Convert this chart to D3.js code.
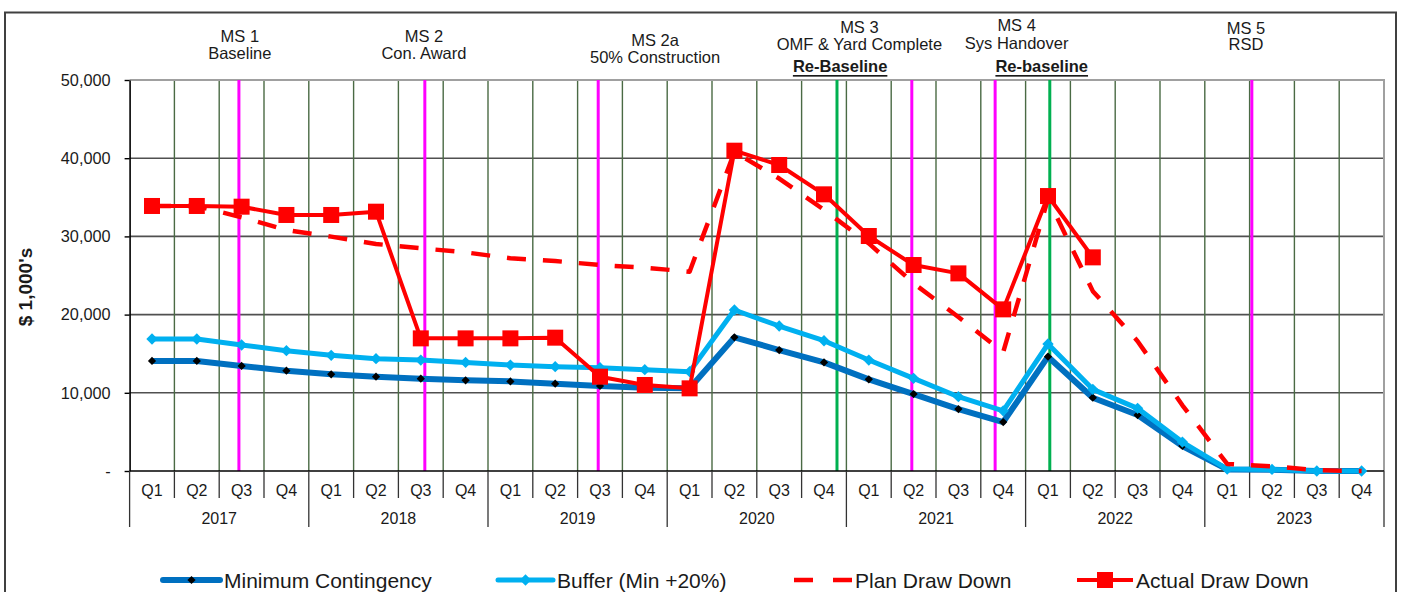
<!DOCTYPE html>
<html>
<head>
<meta charset="utf-8">
<script src="https://cdn.jsdelivr.net/npm/d3@7"></script>
<style>
  html, body { margin: 0; padding: 0; background: #fff; }
  svg { display: block; }
  text { font-family: "Liberation Sans", Arial, sans-serif; fill: #1a1a1a; }
</style>
</head>
<body>
<svg id="chart" width="1401" height="592"></svg>
<script>
// ---------------- DATA ----------------
const years = ["2017", "2018", "2019", "2020", "2021", "2022", "2023"];
const quarters = ["Q1", "Q2", "Q3", "Q4"];
const yTicks = [0, 10000, 20000, 30000, 40000, 50000];

const minimumContingency = [14070, 14070, 13430, 12830, 12360, 12060, 11810, 11590,
  11460, 11170, 10870, 10660, 10570, 17090, 15470, 13890,
  11720, 9840, 7920, 6260, 14620, 9370, 7160, 3200,
  200, 150, 0, 0];
const bufferMin20 = [16880, 16880, 16110, 15390, 14790, 14360, 14190, 13890,
  13550, 13340, 13210, 12960, 12700, 20590, 18540, 16660,
  14190, 11850, 9500, 7700, 16240, 10440, 8010, 3700,
  250, 200, 0, 0];
const planDrawDown = [33890, 33890, 32440, 30820, 29970, 29030, 28480, 27960,
  27200, 26850, 26340, 26000, 25490, 40800, 37400, 33400,
  29100, 24000, 19700, 15200, 34800, 23000, 16600, 8400,
  900, 600, 100, 0];
const actualDrawDown = [33890, 33890, 33800, 32740, 32740, 33160, 16960, 16960,
  16960, 17050, 12060, 11000, 10570, 40960, 39130, 35380,
  30050, 26340, 25270, 20670, 35160, 27320, null, null,
  null, null, null, null];

// milestone vertical lines: position in quarters from start of 2017
const milestoneLinePos = [2.44, 6.59, 10.46, 17.46, 19.32, 25.05];
const rebaselineLinePos = [15.79, 20.54];

// milestone annotation texts (position in quarters from start of 2017)
const milestoneNames = ["MS 1", "MS 2", "MS 2a", "MS 3", "MS 4", "MS 5"];
const milestoneDescs = ["Baseline", "Con. Award", "50% Construction", "OMF & Yard Complete", "Sys Handover", "RSD"];
const milestoneTextPos = [2.46, 6.57, 11.73, 16.29, 19.8, 24.92];
const rebaselineTexts = ["Re-Baseline", "Re-baseline"];
const rebaselineTextPos = [15.86, 20.36];

const legendNames = ["Minimum Contingency", "Buffer (Min +20%)", "Plan Draw Down", "Actual Draw Down"];

// ---------------- LAYOUT ----------------
const L = 129.6, R = 1384, T = 80, B = 471;
const keys = [];
years.forEach(yr => quarters.forEach(q => keys.push(yr + "-" + q)));

const svg = d3.select("#chart");
const x = d3.scaleBand().domain(keys).range([L, R]).paddingInner(0).paddingOuter(0);
const xq = d3.scaleLinear().domain([0, keys.length]).range([L, R]);
const y = d3.scaleLinear().domain([0, 50000]).range([B, T]);
const cx = i => x(keys[i]) + x.bandwidth() / 2;

// outer frame
svg.append("rect").attr("x", 5).attr("y", 12.5).attr("width", 1391).attr("height", 640)
  .attr("fill", "none").attr("stroke", "#404040").attr("stroke-width", 2);

// horizontal gridlines
svg.append("g").selectAll("line").data(yTicks.filter(v => v > 0 && v < 50000)).join("line")
  .attr("x1", L).attr("x2", R).attr("y1", d => y(d)).attr("y2", d => y(d))
  .attr("stroke", "#505050").attr("stroke-width", 1.6);

// vertical gridlines (quarter boundaries)
svg.append("g").selectAll("line").data(d3.range(1, keys.length)).join("line")
  .attr("x1", d => xq(d)).attr("x2", d => xq(d)).attr("y1", T).attr("y2", B)
  .attr("stroke", "#4a6a44").attr("stroke-width", 1.4);

// plot border (top / right)
svg.append("path")
  .attr("d", `M${L},${y(50000)}H${R}V${B}`)
  .attr("fill", "none").attr("stroke", "#a0a0a0").attr("stroke-width", 2);

// milestone lines
svg.append("g").selectAll("line").data(milestoneLinePos).join("line")
  .attr("x1", d => xq(d)).attr("x2", d => xq(d)).attr("y1", T).attr("y2", B)
  .attr("stroke", "#ff00ff").attr("stroke-width", 3);
svg.append("g").selectAll("line").data(rebaselineLinePos).join("line")
  .attr("x1", d => xq(d)).attr("x2", d => xq(d)).attr("y1", T).attr("y2", B)
  .attr("stroke", "#00b050").attr("stroke-width", 3);

// y axis
const yAxis = d3.axisLeft(y).tickValues(yTicks).tickSize(5).tickSizeOuter(0).tickPadding(14)
  .tickFormat(v => v === 0 ? "-" : d3.format(",")(v));
const gy = svg.append("g").attr("transform", `translate(${L},0)`).call(yAxis);
gy.select(".domain").attr("stroke", "#000").attr("stroke-width", 1.6);
gy.selectAll(".tick line").attr("stroke", "#000").attr("stroke-width", 1.4);
gy.selectAll(".tick text").attr("font-size", 16.3).attr("fill", "#1a1a1a")
  .style("font-family", '"Liberation Sans", Arial, sans-serif');

svg.append("text").attr("transform", "translate(25,287) rotate(-90)")
  .attr("text-anchor", "middle").attr("dominant-baseline", "central")
  .attr("font-size", 19).attr("font-weight", "bold").text("$ 1,000's");

// x axis (two-level category)
const gx = svg.append("g");
gx.append("line").attr("x1", L).attr("x2", R).attr("y1", B).attr("y2", B)
  .attr("stroke", "#000").attr("stroke-width", 1.6);
gx.selectAll("line.sep").data(d3.range(0, keys.length + 1)).join("line").attr("class", "sep")
  .attr("x1", d => xq(d)).attr("x2", d => xq(d)).attr("y1", B)
  .attr("y2", d => d % 4 === 0 ? 527 : 498)
  .attr("stroke", "#333").attr("stroke-width", 1.3);
gx.selectAll("text.q").data(keys).join("text").attr("class", "q")
  .attr("x", d => x(d) + x.bandwidth() / 2).attr("y", 490)
  .attr("text-anchor", "middle").attr("dominant-baseline", "central")
  .attr("font-size", 16).text(d => d.split("-")[1]);
gx.selectAll("text.yr").data(years).join("text").attr("class", "yr")
  .attr("x", d => (x(d + "-Q1") + x(d + "-Q4") + x.bandwidth()) / 2).attr("y", 518)
  .attr("text-anchor", "middle").attr("dominant-baseline", "central")
  .attr("font-size", 16).text(d => d);

// milestone annotations
const nameDy = [36, 36, 40, 27, 25, 28];
const descDy = [53, 53, 57, 44, 43, 44];
const ga = svg.append("g").attr("font-size", 16.5);
ga.selectAll("text.mn").data(milestoneNames).join("text").attr("class", "mn")
  .attr("x", (d, i) => xq(milestoneTextPos[i])).attr("y", (d, i) => nameDy[i])
  .attr("text-anchor", "middle").attr("dominant-baseline", "central").text(d => d);
ga.selectAll("text.md").data(milestoneDescs).join("text").attr("class", "md")
  .attr("x", (d, i) => xq(milestoneTextPos[i])).attr("y", (d, i) => descDy[i])
  .attr("text-anchor", "middle").attr("dominant-baseline", "central").text(d => d);
ga.selectAll("text.rb").data(rebaselineTexts).join("text").attr("class", "rb")
  .attr("x", (d, i) => xq(rebaselineTextPos[i])).attr("y", 66)
  .attr("text-anchor", "middle").attr("dominant-baseline", "central")
  .attr("font-weight", "bold").style("text-decoration", "underline").text(d => d);

// series
const lineGen = d3.line().defined(d => d != null).x((d, i) => cx(i)).y(d => y(d));
const diamond = s => d3.symbol(d3.symbolSquare, s)();

function drawSeries(data, color, width, dash) {
  svg.append("path").datum(data).attr("d", lineGen)
    .attr("fill", "none").attr("stroke", color).attr("stroke-width", width)
    .attr("stroke-linejoin", "round").attr("stroke-dasharray", dash || null);
}

// Minimum Contingency
drawSeries(minimumContingency, "#0070c0", 6);
svg.append("g").selectAll("path").data(minimumContingency).join("path")
  .attr("d", diamond(34)).attr("fill", "#000")
  .attr("transform", (d, i) => `translate(${cx(i)},${y(d)}) rotate(45)`);

// Buffer
drawSeries(bufferMin20, "#00b0f0", 5);
svg.append("g").selectAll("path").data(bufferMin20).join("path")
  .attr("d", diamond(64)).attr("fill", "#00b0f0")
  .attr("transform", (d, i) => `translate(${cx(i)},${y(d)}) rotate(45)`);

// Plan
drawSeries(planDrawDown, "#ff0000", 4.5, "19,17");

// Actual
drawSeries(actualDrawDown, "#ff0000", 4);
svg.append("g").selectAll("rect").data(actualDrawDown.map((v, i) => [v, i]).filter(d => d[0] != null)).join("rect")
  .attr("x", d => cx(d[1]) - 8).attr("y", d => y(d[0]) - 8)
  .attr("width", 16).attr("height", 16).attr("fill", "#ff0000");

// legend
const legY = 580;
const lg = svg.append("g");
const legSamples = [[163, 220], [498, 553], [794, 852], [1077, 1133]];
const legText = [224, 557, 855, 1136];
// min
lg.append("line").attr("x1", legSamples[0][0]).attr("x2", legSamples[0][1]).attr("y1", legY).attr("y2", legY)
  .attr("stroke", "#0070c0").attr("stroke-width", 6).attr("stroke-linecap", "round");
lg.append("path").attr("d", diamond(34)).attr("fill", "#000")
  .attr("transform", `translate(${(legSamples[0][0] + legSamples[0][1]) / 2},${legY}) rotate(45)`);
// buffer
lg.append("line").attr("x1", legSamples[1][0]).attr("x2", legSamples[1][1]).attr("y1", legY).attr("y2", legY)
  .attr("stroke", "#00b0f0").attr("stroke-width", 5).attr("stroke-linecap", "round");
lg.append("path").attr("d", diamond(64)).attr("fill", "#00b0f0")
  .attr("transform", `translate(${(legSamples[1][0] + legSamples[1][1]) / 2},${legY}) rotate(45)`);
// plan
lg.append("line").attr("x1", legSamples[2][0]).attr("x2", legSamples[2][1]).attr("y1", legY).attr("y2", legY)
  .attr("stroke", "#ff0000").attr("stroke-width", 4.5).attr("stroke-dasharray", "19,20");
// actual
lg.append("line").attr("x1", legSamples[3][0]).attr("x2", legSamples[3][1]).attr("y1", legY).attr("y2", legY)
  .attr("stroke", "#ff0000").attr("stroke-width", 4);
lg.append("rect").attr("x", (legSamples[3][0] + legSamples[3][1]) / 2 - 8).attr("y", legY - 8)
  .attr("width", 16).attr("height", 16).attr("fill", "#ff0000");
lg.selectAll("text").data(legendNames).join("text")
  .attr("x", (d, i) => legText[i]).attr("y", legY)
  .attr("dominant-baseline", "central").attr("font-size", 21).text(d => d);
</script>
</body>
</html>
